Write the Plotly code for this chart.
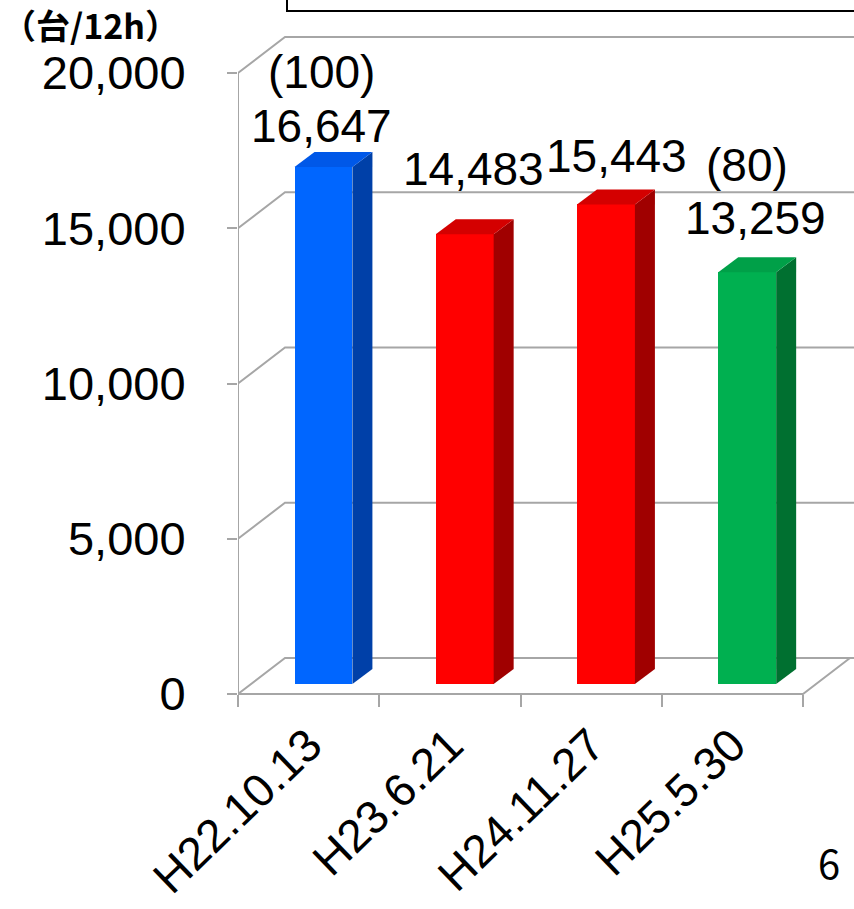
import plotly.graph_objects as go

# ---- data ----
categories = ["H22.10.13", "H23.6.21", "H24.11.27", "H25.5.30"]
values = [16647, 14483, 15443, 13259]
index_labels = ["(100)", "", "", "(80)"]
y_ticks = [0, 5000, 10000, 15000, 20000]
unit_label = "（台/12h）"
page_number = "6"

# ---- style / geometry ----
W, H = 854, 909
PX_LEFT = 238           # front y-axis pixel x
PX_Y0 = 694             # pixel of value 0 on front plane
PX_Y20K = 73            # pixel of 20000 on front plane
K = (PX_Y0 - PX_Y20K) / 20000.0   # px per unit
CAT_PX = 141.25         # px per category
XR0 = -0.5
XR1 = XR0 + (W - PX_LEFT) / CAT_PX
YR0 = (PX_Y0 - H) / K
YR1 = PX_Y0 / K

WALL_DX = 47 / CAT_PX   # depth offset of back wall
WALL_DY = 36 / K
BAR_BASE = 10 / K       # bars stand inside the floor
BAR_OFF = -0.1
BAR_W = 0.41
SIDE_DX = 20 / CAT_PX
SIDE_DY = 15 / K
GRID = "#A6A6A6"

front = ["#0066FF", "#FF0000", "#FF0000", "#00B050"]
side = ["#0040A8", "#A00000", "#A00000", "#007030"]
top = ["#0058E8", "#D40000", "#D40000", "#00A048"]

label_shift = [(-2, 41), (9, 65), (11, 48), (8, 54)]
index_shift = [(-2, 95), (0, 0), (0, 0), (0, 107)]

FONT = "Arial, Liberation Sans, sans-serif"

fig = go.Figure()
xs = list(range(len(categories)))

fig.add_trace(go.Bar(
    x=xs, y=values, base=BAR_BASE, offset=BAR_OFF, width=BAR_W,
    marker=dict(color=front, line=dict(width=0)), hoverinfo="skip",
))

for i, v in enumerate(values):
    xl = i + BAR_OFF
    xr = xl + BAR_W
    t = BAR_BASE + v
    b = BAR_BASE
    # side face
    fig.add_trace(go.Scatter(
        x=[xr, xr, xr + SIDE_DX, xr + SIDE_DX, xr],
        y=[b, t, t + SIDE_DY, b + SIDE_DY, b],
        fill="toself", fillcolor=side[i], mode="lines",
        line=dict(width=0, color=side[i]), hoverinfo="skip", showlegend=False,
    ))
    # top face
    fig.add_trace(go.Scatter(
        x=[xl, xr, xr + SIDE_DX, xl + SIDE_DX, xl],
        y=[t, t, t + SIDE_DY, t + SIDE_DY, t],
        fill="toself", fillcolor=top[i], mode="lines",
        line=dict(width=0, color=top[i]), hoverinfo="skip", showlegend=False,
    ))

shapes = []
# back-wall gridlines (with diagonal from the front axis)
for v in y_ticks:
    shapes.append(dict(
        type="path", xref="x", yref="y",
        path=f"M {XR0},{v} L {XR0 + WALL_DX},{v + WALL_DY} L {XR1 + 0.05},{v + WALL_DY}",
        line=dict(color=GRID, width=2), layer="below",
    ))
# front floor edge + right diagonal
xlast = XR0 + len(categories)
shapes.append(dict(
    type="path", xref="x", yref="y",
    path=f"M {XR0},0 L {xlast},0 L {xlast + WALL_DX},{WALL_DY}",
    line=dict(color=GRID, width=2), layer="below",
))
# front vertical axis line
shapes.append(dict(
    type="line", xref="x", yref="y", x0=XR0, x1=XR0, y0=0, y1=y_ticks[-1],
    line=dict(color=GRID, width=2), layer="below",
))
# top box (cropped)
shapes.append(dict(
    type="rect", xref="paper", yref="paper",
    x0=287 / W, x1=1.02, y0=1 - 11 / H, y1=1.05,
    line=dict(color="black", width=2), fillcolor="rgba(0,0,0,0)",
))

ann = []
for i, v in enumerate(values):
    cx = i + BAR_OFF + BAR_W / 2
    t = BAR_BASE + v
    ann.append(dict(
        x=cx, y=t, xref="x", yref="y", text=f"{v:,}", showarrow=False,
        xshift=label_shift[i][0], yshift=label_shift[i][1],
        xanchor="center", yanchor="middle",
        font=dict(family=FONT, size=46, color="black"),
    ))
    if index_labels[i]:
        ann.append(dict(
            x=cx, y=t, xref="x", yref="y", text=index_labels[i], showarrow=False,
            xshift=index_shift[i][0], yshift=index_shift[i][1],
            xanchor="center", yanchor="middle",
            font=dict(family=FONT, size=46, color="black"),
        ))
ann.append(dict(
    x=0 / W, y=1 - 25 / H, xref="paper", yref="paper", text=f"<b>{unit_label}</b>",
    showarrow=False, xanchor="left", yanchor="middle",
    font=dict(family="Noto Sans CJK JP", size=34, color="black"),
))
ann.append(dict(
    x=829 / W, y=1 - 862 / H, xref="paper", yref="paper", text=page_number,
    showarrow=False, xanchor="center", yanchor="middle",
    font=dict(family="Noto Sans CJK JP", size=40, color="black"),
))

fig.update_layout(
    width=W, height=H, margin=dict(l=0, r=0, t=0, b=0, autoexpand=False),
    paper_bgcolor="white", plot_bgcolor="white",
    showlegend=False, bargap=0,
    shapes=shapes, annotations=ann,
    xaxis=dict(
        domain=[PX_LEFT / W, 1], range=[XR0, XR1], anchor="free",
        position=(H - PX_Y0) / H, automargin=False,
        tickvals=xs, ticktext=categories, tickangle=-44, ticks="",
        ticklabelstandoff=14,
        minor=dict(tickvals=[XR0 + k for k in range(len(categories) + 1)],
                   ticks="outside", ticklen=12, tickwidth=2, tickcolor=GRID),
        showgrid=False, zeroline=False, showline=False,
        tickfont=dict(family=FONT, size=46, color="black"),
        fixedrange=True,
    ),
    yaxis=dict(
        domain=[0, 1], range=[YR0, YR1], anchor="x", automargin=False,
        tickvals=y_ticks, tickformat=",d", ticks="outside", ticklen=10,
        tickwidth=2, tickcolor=GRID, ticklabelstandoff=32,
        showgrid=False, zeroline=False, showline=False,
        tickfont=dict(family=FONT, size=47, color="black"),
        fixedrange=True,
    ),
)

fig.write_html("out.html")
